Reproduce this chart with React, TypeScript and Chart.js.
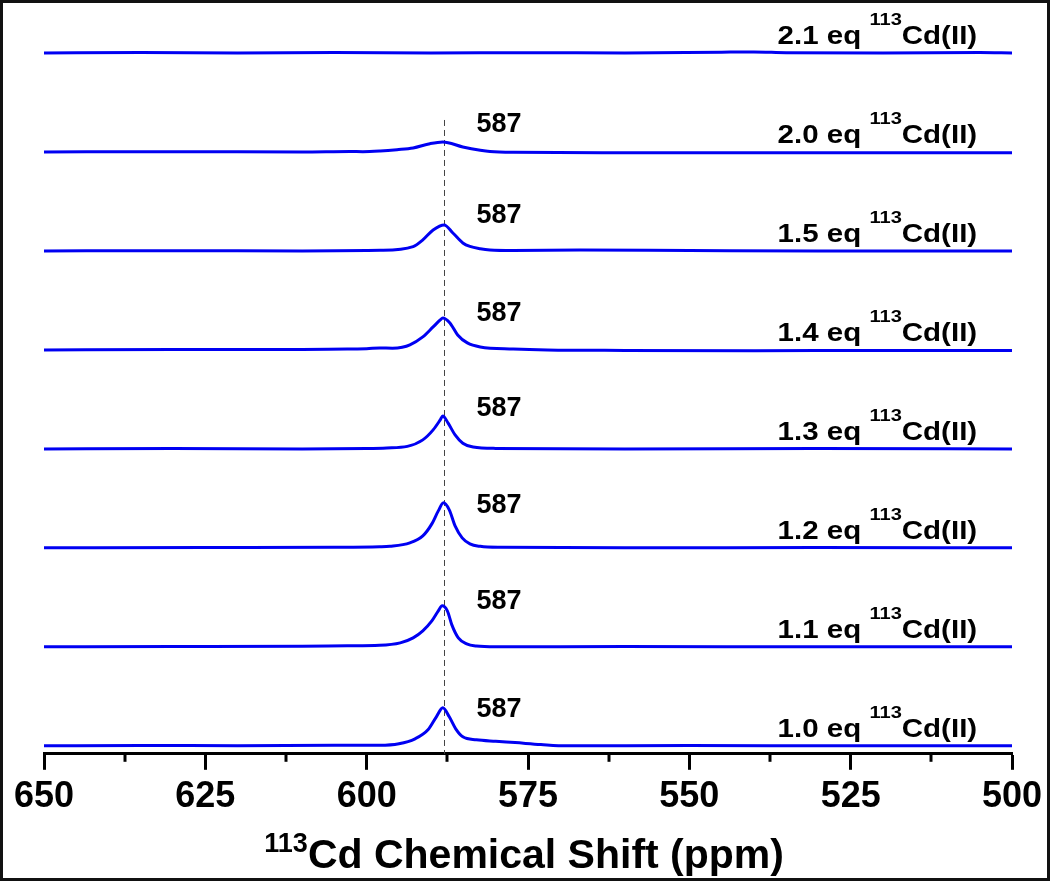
import React, { useEffect, useRef } from 'react';
import { Chart, registerables } from 'chart.js';

Chart.register(...registerables);

const FONT = '"Liberation Sans", Arial, Helvetica, sans-serif';

// Axis
const X_MIN = 500;
const X_MAX = 650;
const MAJOR_STEP = 25;
const MINOR_TICKS = [637.5, 612.5, 587.5, 562.5, 537.5, 512.5];
const TRACE_STEP = 99; // vertical offset between stacked spectra (intensity units)

// Series
const equivalents = ['1.0', '1.1', '1.2', '1.3', '1.4', '1.5', '2.0', '2.1'];
const peakShiftLabel = '587';
const peakMarkerPpm = 588;
const peakLabelPpm = 579.5;
const peakLabelHeights = [29, 38, 35, 33, 29, 28, 20, null];
const seriesLabelPpm = 505.4;
const markerTop = 626;

// [ppm, intensity]
const trace10 = [
  [650, 0], [635, 0.4], [620, 0], [605, 0.5], [598, 0.5], [595, 2], [592.5, 7], [590.5, 16],
  [589.2, 29], [588.2, 38], [587.2, 29], [586.2, 17], [585.1, 9], [583, 6], [580, 4.5],
  [577, 3.2], [573, 1.3], [569, 0], [550, 0.3], [525, 0], [500, 0],
];
const trace11 = [
  [650, 0], [630, 0.3], [610, 0.5], [603, 1], [598, 1.5], [594.8, 4], [592.8, 9], [591.3, 16],
  [589.9, 26], [588.9, 36], [588.3, 41], [587.5, 36], [586.8, 22], [585.8, 9], [584.5, 3],
  [583, 0.8], [580, 0], [560, 0.3], [530, 0], [500, 0],
];
const trace12 = [
  [650, 0], [625, 0.3], [605, 0.5], [598, 1], [596.4, 1.5], [593.3, 5], [591.3, 12], [589.9, 24],
  [588.9, 37], [588.1, 45], [587.2, 38], [586.3, 22], [585.2, 10], [584, 4], [582.4, 1.5],
  [579.3, 0.5], [560, 0], [530, 0.3], [500, 0],
];
const trace13 = [
  [650, 0], [630, 0.3], [610, 0], [600, 0.5], [596.9, 1], [593.7, 2.5], [591.3, 9], [589.7, 19],
  [588.6, 29], [588.2, 33], [587.4, 26], [586.3, 14], [585.1, 5.7], [583.5, 1.8], [580, 0.5],
  [560, 0], [530, 0.3], [500, 0],
];
const trace14 = [
  [650, 0], [630, 0.3], [610, 0.5], [603, 1], [600, 1.2], [598, 2], [596, 1.7], [594.5, 2.6],
  [593.3, 5], [591.3, 13], [589.7, 23], [588.6, 30], [588.2, 32], [587.1, 27], [585.9, 15],
  [584.4, 7], [582.4, 3], [577.3, 1], [572, 0], [560, -0.5], [540, -0.8], [520, -0.5], [500, -0.5],
];
const trace15 = [
  [650, 0], [630, 0.3], [610, 0], [600, 0.5], [597.9, 0.6], [592.8, 4.3], [591.3, 11], [589.7, 21],
  [588, 26], [586.6, 17.7], [585.1, 8], [584, 4.5], [582.4, 2.2], [580.9, 1], [577.3, 0.5],
  [567, 1], [550, 0.5], [530, 0], [500, 0],
];
const trace20 = [
  [650, 0], [630, 0.3], [610, 0], [602.6, 0.5], [600.6, 0.3], [597.9, 1], [595.3, 2.3],
  [592.8, 4], [590.2, 8.3], [588.2, 10], [585.1, 5], [582.4, 1.7], [580.9, 0.4], [577.3, -0.4],
  [560, -0.8], [530, -0.7], [500, -0.7],
];
const trace21 = [
  [650, 0], [635, 0.5], [620, 0], [605, 0.4], [590, 0], [575, 0.3], [560, 0], [545, 0.8],
  [540, 1], [535, 0.3], [520, 0], [505, 0.4], [500, 0],
];
const traces = [trace10, trace11, trace12, trace13, trace14, trace15, trace20, trace21];

function drawSuper(
  ctx: CanvasRenderingContext2D,
  pre: string,
  sup: string,
  post: string,
  xRight: number | null,
  xCenter: number | null,
  baseline: number,
  mainSize: number,
  supSize: number,
  rise: number,
  scaleX: number
) {
  const mainFont = `bold ${mainSize}px ${FONT}`;
  const supFont = `bold ${supSize}px ${FONT}`;
  ctx.font = mainFont;
  const wPre = ctx.measureText(pre).width;
  const wPost = ctx.measureText(post).width;
  ctx.font = supFont;
  const wSup = ctx.measureText(sup).width;
  const total = (wPre + wSup + wPost) * scaleX;
  let x0 = 0;
  if (xRight !== null) x0 = xRight - total;
  else if (xCenter !== null) x0 = xCenter - total / 2;
  ctx.save();
  ctx.translate(x0, baseline);
  ctx.scale(scaleX, 1);
  ctx.fillStyle = '#000';
  ctx.textAlign = 'left';
  ctx.textBaseline = 'alphabetic';
  ctx.font = mainFont;
  ctx.fillText(pre, 0, 0);
  ctx.font = supFont;
  ctx.fillText(sup, wPre, -rise);
  ctx.font = mainFont;
  ctx.fillText(post, wPre + wSup, 0);
  ctx.restore();
}

const overlayPlugin = {
  id: 'nmrOverlay',
  beforeDatasetsDraw(chart: any) {
    const { ctx, chartArea, scales } = chart;
    const x = scales.x;
    const y = scales.y;
    ctx.save();
    ctx.strokeStyle = '#444';
    ctx.lineWidth = 1;
    ctx.setLineDash([6, 4]);
    const px = Math.round(x.getPixelForValue(peakMarkerPpm)) + 0.5;
    ctx.beginPath();
    ctx.moveTo(px, y.getPixelForValue(markerTop));
    ctx.lineTo(px, chartArea.bottom);
    ctx.stroke();
    ctx.restore();
  },
  afterDraw(chart: any) {
    const { ctx, chartArea, scales } = chart;
    const x = scales.x;
    const y = scales.y;
    ctx.save();
    // minor ticks
    ctx.strokeStyle = '#000';
    ctx.lineWidth = 3;
    MINOR_TICKS.forEach((v) => {
      const px = Math.round(x.getPixelForValue(v));
      ctx.beginPath();
      ctx.moveTo(px, chartArea.bottom);
      ctx.lineTo(px, chartArea.bottom + 8);
      ctx.stroke();
    });
    // series labels and peak labels
    equivalents.forEach((eq, i) => {
      const base = i * TRACE_STEP;
      drawSuper(ctx, `${eq} eq `, '113', 'Cd(II)', x.getPixelForValue(seriesLabelPpm), null,
        y.getPixelForValue(base + 9), 25, 17, 19, 1.18);
      const h = peakLabelHeights[i];
      if (h !== null) {
        ctx.fillStyle = '#000';
        ctx.font = `bold 27px ${FONT}`;
        ctx.textAlign = 'center';
        ctx.textBaseline = 'alphabetic';
        ctx.fillText(peakShiftLabel, x.getPixelForValue(peakLabelPpm), y.getPixelForValue(base + h));
      }
    });
    // axis title
    drawSuper(ctx, '', '113', 'Cd Chemical Shift (ppm)', null, x.getPixelForValue(575.6), 868, 41, 27, 16, 1);
    ctx.restore();
  },
};

export default function App() {
  const ref = useRef<HTMLCanvasElement>(null);
  useEffect(() => {
    if (!ref.current) return;
    const datasets = traces.map((t, i) => ({
      label: `${equivalents[i]} eq 113Cd(II)`,
      data: t.map(([ppm, v]) => ({ x: ppm, y: v + i * TRACE_STEP })),
      borderColor: '#0000f2',
      borderWidth: 3,
      pointRadius: 0,
      fill: false,
      cubicInterpolationMode: 'monotone' as const,
    }));
    const chart = new Chart(ref.current, {
      type: 'line',
      data: { datasets },
      options: {
        responsive: false,
        animation: false,
        parsing: true,
        layout: { padding: { left: 44, right: 38, top: 20, bottom: 58 } },
        plugins: {
          legend: { display: false },
          tooltip: { enabled: false },
          title: { display: false },
        },
        scales: {
          x: {
            type: 'linear',
            min: X_MIN,
            max: X_MAX,
            reverse: true,
            ticks: {
              stepSize: MAJOR_STEP,
              color: '#000',
              font: { family: FONT, size: 36, weight: 'bold' },
              padding: 6,
              maxRotation: 0,
              autoSkip: false,
            },
            grid: {
              display: true,
              drawOnChartArea: false,
              drawTicks: true,
              tickLength: 16,
              tickWidth: 3,
              tickColor: '#000',
            },
            border: { display: true, width: 3, color: '#000' },
          },
          y: { type: 'linear', display: false, min: -8, max: 726 },
        },
      },
      plugins: [overlayPlugin],
    });
    return () => chart.destroy();
  }, []);
  return (
    <div style={{ position: 'absolute', left: 0, top: 0, width: 1050, height: 883, background: '#fff' }}>
      <canvas ref={ref} width={1050} height={883} style={{ display: 'block' }} />
      <div
        style={{
          position: 'absolute',
          left: 0,
          top: 0,
          width: 1050,
          height: 881,
          border: '3px solid #111',
          boxSizing: 'border-box',
          pointerEvents: 'none',
        }}
      />
    </div>
  );
}
